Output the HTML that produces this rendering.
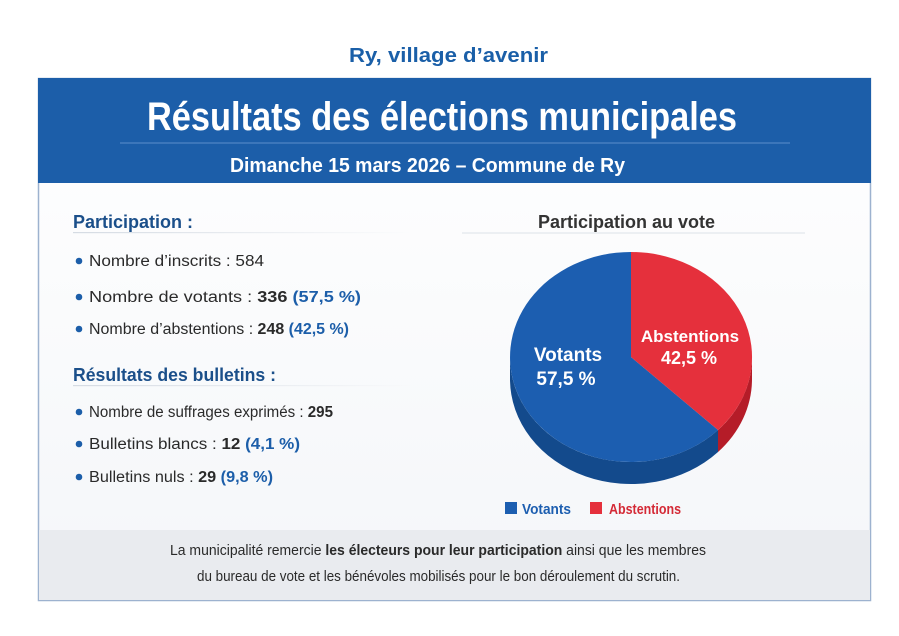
<!DOCTYPE html>
<html><head><meta charset="utf-8"><style>
body{margin:0;background:#fff}
svg{display:block;font-family:"Liberation Sans Narrow","Liberation Sans",sans-serif}
</style></head><body>
<svg width="899" height="636" viewBox="0 0 899 636">
<defs>
<linearGradient id="bg" x1="0" y1="0" x2="0" y2="1"><stop offset="0" stop-color="#ffffff"/><stop offset="1" stop-color="#f4f6f9"/></linearGradient>
<linearGradient id="ln" x1="0" x2="1"><stop offset="0" stop-color="#d5dbe3"/><stop offset="1" stop-color="#d5dbe3" stop-opacity="0"/></linearGradient>
</defs>
<text x="349" y="62" textLength="199" lengthAdjust="spacingAndGlyphs" font-size="20" font-weight="bold" fill="#1a5fa8">Ry, village d’avenir</text>
<rect x="38.5" y="78.5" width="832" height="522" fill="url(#bg)" stroke="#9db2cf" stroke-width="1.5"/>
<rect x="38" y="78" width="833" height="105" fill="#1c5ea9"/>
<line x1="120" y1="143" x2="790" y2="143" stroke="#5b8fcc" stroke-width="1"/>
<text x="147" y="130" textLength="590" lengthAdjust="spacingAndGlyphs" font-size="40" font-weight="bold" fill="#fff">Résultats des élections municipales</text>
<text x="230" y="172" textLength="395" lengthAdjust="spacingAndGlyphs" font-size="20" font-weight="bold" fill="#fff">Dimanche 15 mars 2026 – Commune de Ry</text>

<text x="73" y="228" textLength="120" lengthAdjust="spacingAndGlyphs" font-size="18" font-weight="bold" fill="#1b4f8a">Participation :</text>
<rect x="73" y="232" width="340" height="1.2" fill="url(#ln)"/>
<g font-size="15.5" fill="#2a2a2a">
<circle cx="79" cy="261" r="3.3" fill="#1c5ea9"/>
<text x="89" y="266" textLength="175" lengthAdjust="spacingAndGlyphs">Nombre d’inscrits : 584</text>
<circle cx="79" cy="297" r="3.3" fill="#1c5ea9"/>
<text x="89" y="302" textLength="272" lengthAdjust="spacingAndGlyphs">Nombre de votants : <tspan font-weight="bold">336</tspan> <tspan font-weight="bold" fill="#1c5ea9">(57,5 %)</tspan></text>
<circle cx="79" cy="329" r="3.3" fill="#1c5ea9"/>
<text x="89" y="334" textLength="260" lengthAdjust="spacingAndGlyphs">Nombre d’abstentions : <tspan font-weight="bold">248</tspan> <tspan font-weight="bold" fill="#1c5ea9">(42,5 %)</tspan></text>
</g>
<text x="73" y="381" textLength="203" lengthAdjust="spacingAndGlyphs" font-size="18" font-weight="bold" fill="#1b4f8a">Résultats des bulletins :</text>
<rect x="73" y="385" width="340" height="1.2" fill="url(#ln)"/>
<g font-size="15.5" fill="#2a2a2a">
<circle cx="79" cy="412" r="3.3" fill="#1c5ea9"/>
<text x="89" y="417" textLength="244" lengthAdjust="spacingAndGlyphs">Nombre de suffrages exprimés : <tspan font-weight="bold">295</tspan></text>
<circle cx="79" cy="444" r="3.3" fill="#1c5ea9"/>
<text x="89" y="449" textLength="211" lengthAdjust="spacingAndGlyphs">Bulletins blancs : <tspan font-weight="bold">12</tspan> <tspan font-weight="bold" fill="#1c5ea9">(4,1 %)</tspan></text>
<circle cx="79" cy="477" r="3.3" fill="#1c5ea9"/>
<text x="89" y="482" textLength="184" lengthAdjust="spacingAndGlyphs">Bulletins nuls : <tspan font-weight="bold">29</tspan> <tspan font-weight="bold" fill="#1c5ea9">(9,8 %)</tspan></text>
</g>

<text x="538" y="228" textLength="177" lengthAdjust="spacingAndGlyphs" font-size="18" font-weight="bold" fill="#333">Participation au vote</text>
<line x1="462" y1="233" x2="805" y2="233" stroke="#dde2e8" stroke-width="1"/>

<!-- 3D pie: center (631,357) rx121 ry105, depth 22 -->
<path d="M510,357 A121,105 0 0 0 718,430 L718,452 A121,105 0 0 1 510,379 Z" fill="#134a8c"/>
<path d="M718,430 A121,105 0 0 0 752,357 L752,379 A121,105 0 0 1 718,452 Z" fill="#b51c28"/>
<path d="M631,357 L631,252 A121,105 0 1 0 718,430 Z" fill="#1c5eb0"/>
<path d="M631,357 L631,252 A121,105 0 0 1 718,430 Z" fill="#e5303c"/>
<g font-weight="bold" fill="#fff" text-anchor="middle">
<text x="568" y="361" font-size="19">Votants</text>
<text x="566" y="385" font-size="19">57,5 %</text>
<text x="690" y="342" font-size="17">Abstentions</text>
<text x="689" y="364" font-size="18">42,5 %</text>
</g>
<rect x="505" y="502" width="12" height="12" fill="#1c5eb0"/>
<text x="522" y="514" textLength="49" lengthAdjust="spacingAndGlyphs" font-size="15" font-weight="bold" fill="#1c5eb0">Votants</text>
<rect x="590" y="502" width="12" height="12" fill="#e5303c"/>
<text x="609" y="514" textLength="72" lengthAdjust="spacingAndGlyphs" font-size="15" font-weight="bold" fill="#d42a36">Abstentions</text>

<rect x="39" y="530" width="831" height="70" fill="#e9ebef"/>
<g font-size="15" fill="#2a2a2a">
<text x="170" y="555" textLength="536" lengthAdjust="spacingAndGlyphs">La municipalité remercie <tspan font-weight="bold">les électeurs pour leur participation</tspan> ainsi que les membres</text>
<text x="197" y="581" textLength="483" lengthAdjust="spacingAndGlyphs">du bureau de vote et les bénévoles mobilisés pour le bon déroulement du scrutin.</text>
</g>
</svg>
</body></html>
